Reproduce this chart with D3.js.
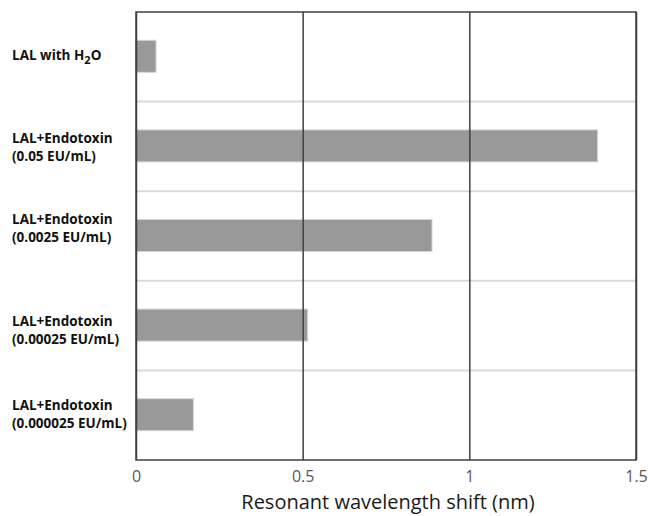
<!DOCTYPE html>
<html>
<head>
<meta charset="utf-8">
<script src="https://cdn.jsdelivr.net/npm/d3@7"></script>
<style>
html,body{margin:0;padding:0;background:#fff;}
svg{display:block;}
</style>
</head>
<body>
<svg id="chart" width="648" height="516"></svg>
<script>
// ---- data ----
const categories = ["h2o", "c005", "c0025", "c00025", "c000025"];
const labelLine1 = ["LAL with H", "LAL+Endotoxin", "LAL+Endotoxin", "LAL+Endotoxin", "LAL+Endotoxin"];
const labelLine2 = ["", "(0.05 EU/mL)", "(0.0025 EU/mL)", "(0.00025 EU/mL)", "(0.000025 EU/mL)"];
const values = [0.06, 1.385, 0.888, 0.515, 0.172];
const tickValues = [0, 0.5, 1, 1.5];
const tickLabels = ["0", "0.5", "1", "1.5"];
const axisTitle = "Resonant wavelength shift (nm)";

// ---- layout ----
const plot = {left: 136, right: 636, top: 12, bottom: 460};
const svg = d3.select("#chart");

const x = d3.scaleLinear().domain([0, 1.5]).range([plot.left, plot.right]);
const y = d3.scaleBand().domain(categories).range([plot.top, plot.bottom]).paddingInner(0).paddingOuter(0);
const barH = 32;

// horizontal light separators between bands
svg.append("g").selectAll("line")
  .data(categories.slice(1))
  .join("line")
  .attr("x1", plot.left).attr("x2", plot.right)
  .attr("y1", d => y(d)).attr("y2", d => y(d))
  .attr("stroke", "#dadada").attr("stroke-width", 2);

// bars
svg.append("g").selectAll("rect")
  .data(categories)
  .join("rect")
  .attr("x", x(0))
  .attr("y", (d) => y(d) + y.bandwidth() / 2 - barH / 2 - 0.5)
  .attr("width", (d, i) => x(values[i]) - x(0))
  .attr("height", barH)
  .attr("fill", "#999999")
  .attr("stroke", "#d4d4d4")
  .attr("stroke-width", 1);

// vertical gridlines (via axis)
const gridAxis = d3.axisBottom(x).tickValues(tickValues).tickSize(-(plot.bottom - plot.top)).tickFormat("");
const grid = svg.append("g").attr("transform", `translate(0,${plot.bottom})`).call(gridAxis);
grid.select(".domain").remove();
grid.selectAll(".tick line").attr("stroke", "#404040").attr("stroke-width", 1.5);

// frame
svg.append("rect")
  .attr("x", plot.left).attr("y", plot.top)
  .attr("width", plot.right - plot.left).attr("height", plot.bottom - plot.top)
  .attr("fill", "none").attr("stroke", "#404040").attr("stroke-width", 1.5);

// tick labels
const tickAxis = d3.axisBottom(x).tickValues(tickValues).tickSize(0).tickPadding(0)
  .tickFormat((d, i) => tickLabels[i]);
const tg = svg.append("g").attr("transform", `translate(0,${plot.bottom})`).call(tickAxis);
tg.select(".domain").remove();
tg.selectAll(".tick text")
  .attr("y", 22).attr("dy", 0)
  .attr("font-family", "'Open Sans', sans-serif")
  .attr("font-size", 16)
  .attr("fill", "#595959");

// axis title
svg.append("text")
  .attr("x", (plot.left + plot.right) / 2 + 2)
  .attr("y", 509)
  .attr("text-anchor", "middle")
  .attr("font-family", "'Open Sans', sans-serif")
  .attr("font-size", 20)
  .attr("fill", "#1a1a1a")
  .text(axisTitle);

// category labels (manual text-box offsets relative to band centers)
const line1Off = [3, -3, -12, 0, -5];
const line2Off = [0, 15, 6, 18, 13];
const lg = svg.append("g")
  .attr("font-family", "'Open Sans', sans-serif")
  .attr("font-weight", 700)
  .attr("font-size", 13.5)
  .attr("fill", "#111");
categories.forEach((c, i) => {
  const cy = y(c) + y.bandwidth() / 2;
  const t1 = lg.append("text").attr("x", 12).attr("y", cy + line1Off[i]).text(labelLine1[i]);
  if (i === 0) {
    t1.append("tspan").attr("dy", 4).attr("font-size", 11).text("2");
    t1.append("tspan").attr("dy", -4).text("O");
  }
  if (labelLine2[i]) {
    lg.append("text").attr("x", 12).attr("y", cy + line2Off[i]).text(labelLine2[i]);
  }
});
</script>
</body>
</html>
